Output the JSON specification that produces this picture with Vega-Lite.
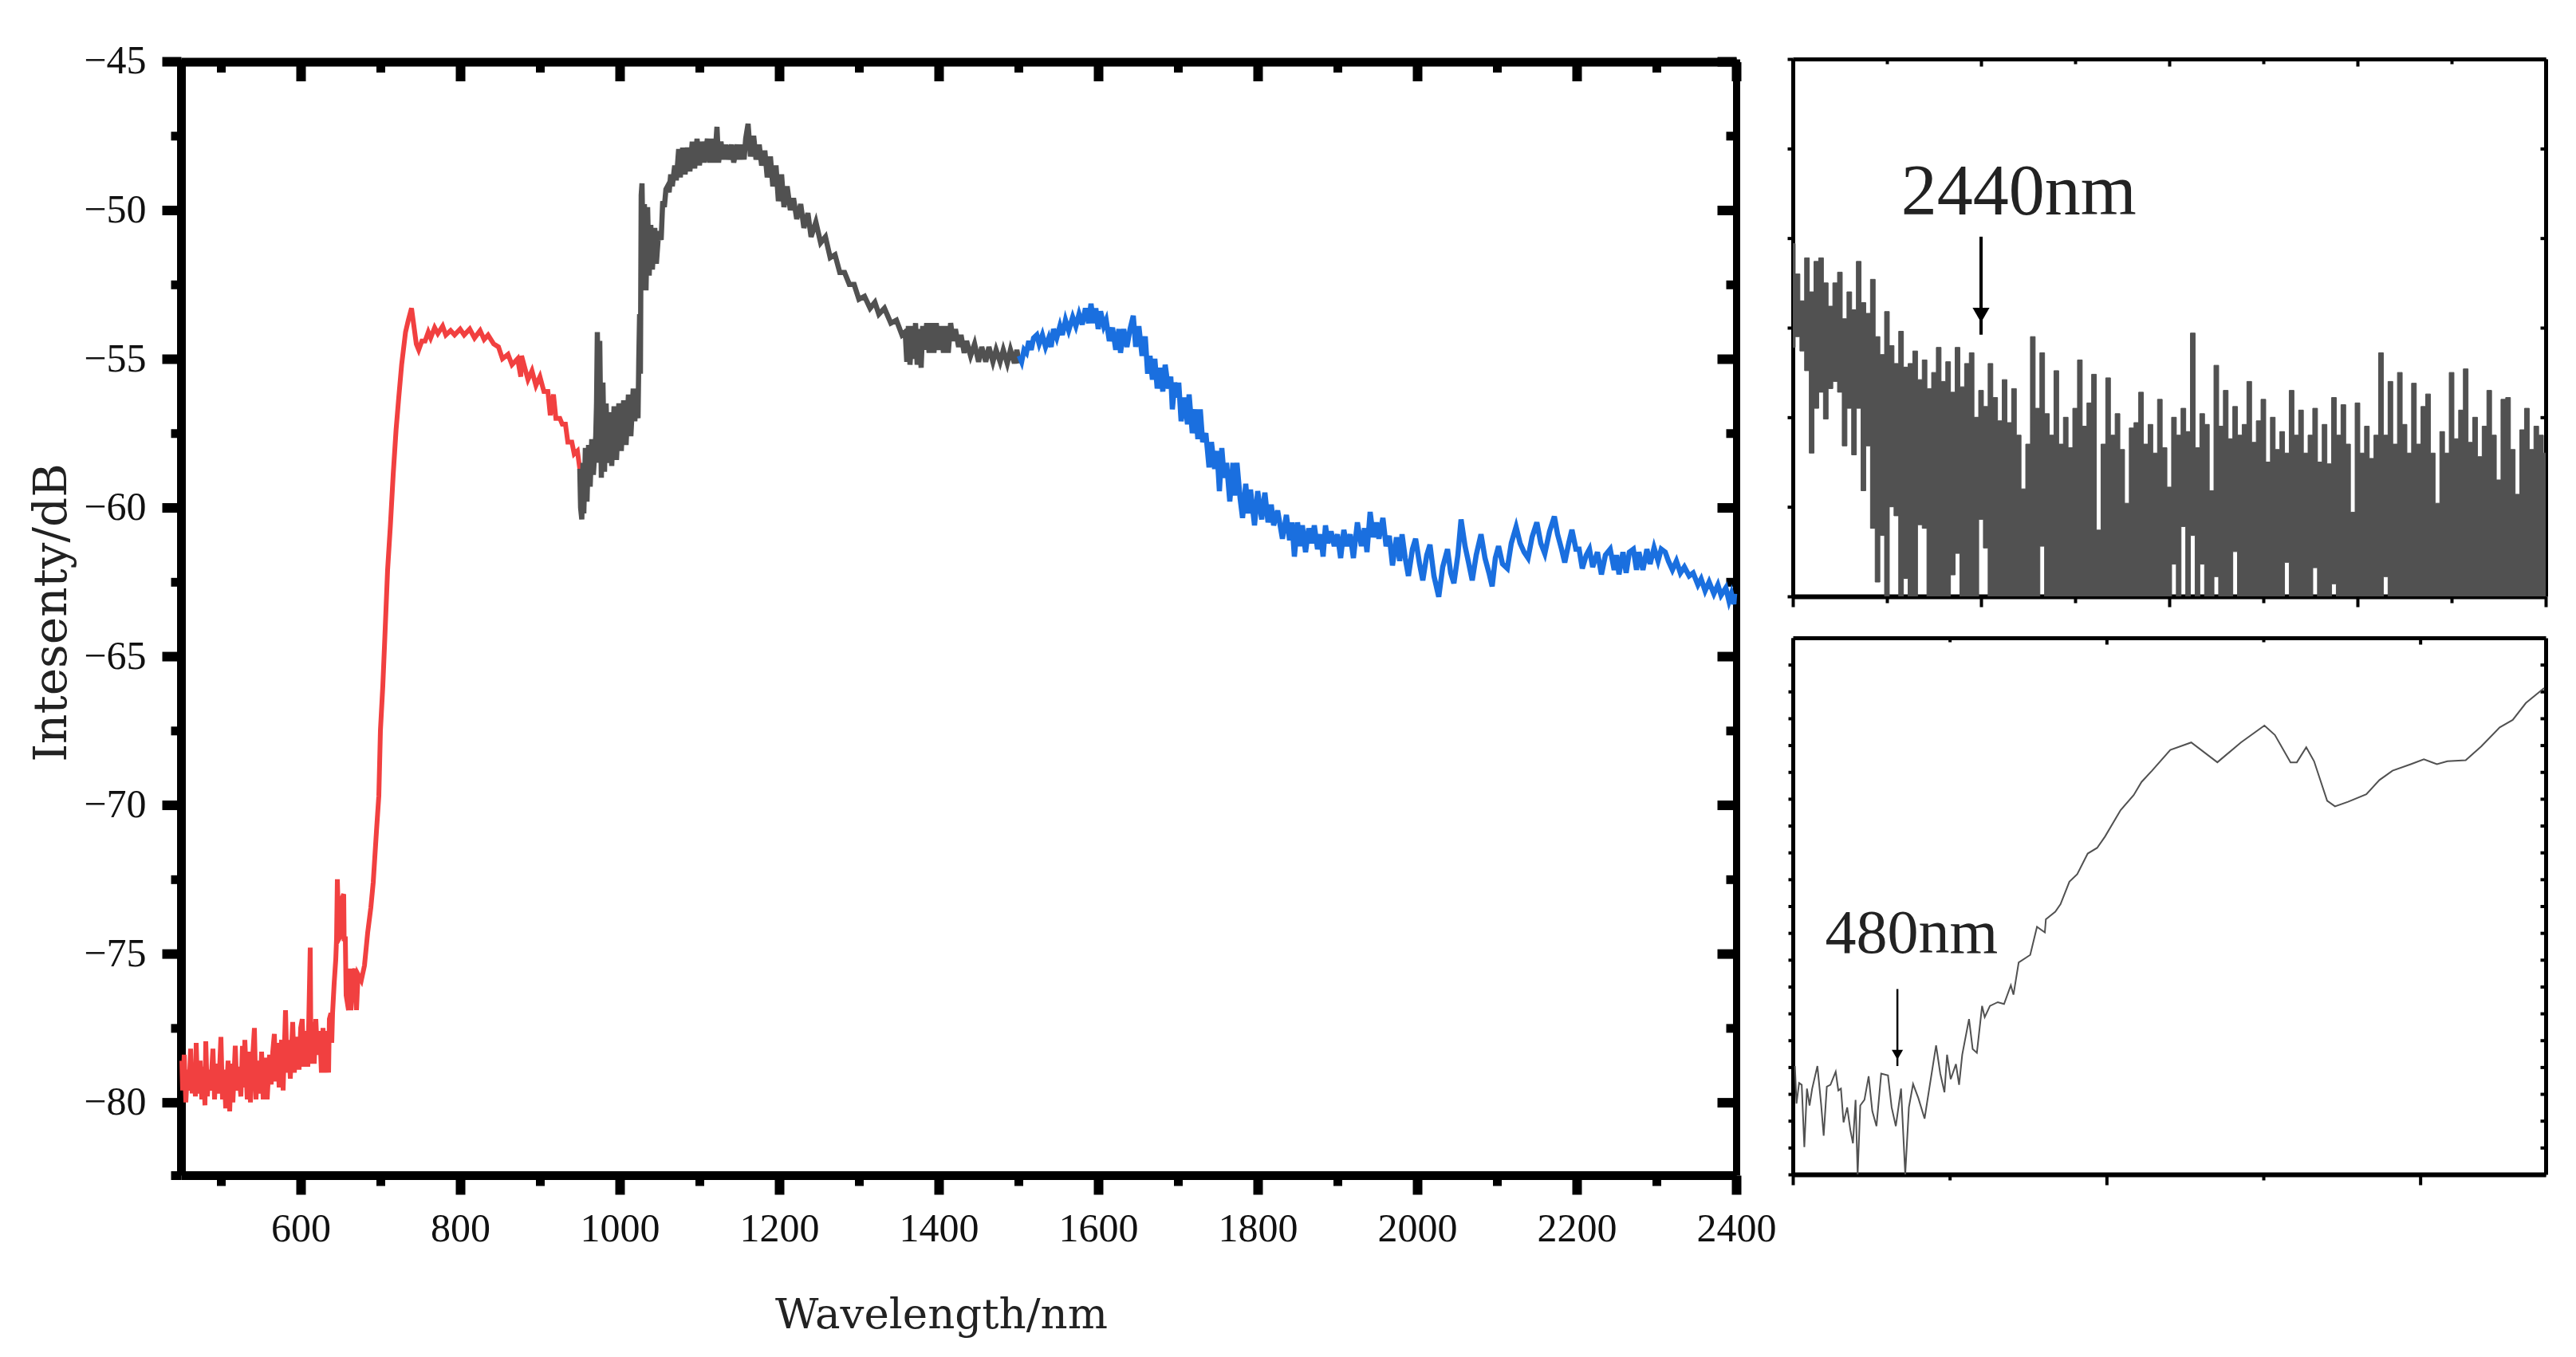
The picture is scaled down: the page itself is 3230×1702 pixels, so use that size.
{
"$schema":"https://vega.github.io/schema/vega-lite/v6.json",
"description":"Supercontinuum spectrum 450-2400 nm with close-ups of the two band edges",
"background":"white",
"padding":{"left":36,"top":51,"right":5,"bottom":5},
"bounds":"flush",
"spacing":71,
"datasets":{
"red":[{"nm":451,"db":-78.6},{"nm":452,"db":-79.6},{"nm":454,"db":-78.4},{"nm":456,"db":-80},{"nm":458,"db":-78.9},{"nm":460,"db":-79.6},{"nm":462,"db":-78.2},{"nm":464,"db":-79.7},{"nm":466,"db":-78.8},{"nm":468,"db":-79.8},{"nm":469,"db":-78},{"nm":471,"db":-79.7},{"nm":474,"db":-78.6},{"nm":476,"db":-79.9},{"nm":478,"db":-78.8},{"nm":480,"db":-80.1},{"nm":481,"db":-77.95},{"nm":483,"db":-79.8},{"nm":485,"db":-78.9},{"nm":487,"db":-79.6},{"nm":490,"db":-78.2},{"nm":492,"db":-79.9},{"nm":494,"db":-78.7},{"nm":497,"db":-79.7},{"nm":500,"db":-77.8},{"nm":502,"db":-79.9},{"nm":504,"db":-78.9},{"nm":506,"db":-80.2},{"nm":509,"db":-78.6},{"nm":511,"db":-80.3},{"nm":513,"db":-78.7},{"nm":515,"db":-80},{"nm":518,"db":-78.1},{"nm":520,"db":-79.6},{"nm":522,"db":-78.8},{"nm":525,"db":-79.8},{"nm":527,"db":-78.1},{"nm":529,"db":-79.5},{"nm":530,"db":-77.9},{"nm":533,"db":-79.9},{"nm":535,"db":-78.3},{"nm":537,"db":-80},{"nm":540,"db":-78.4},{"nm":542,"db":-77.5},{"nm":544,"db":-79.9},{"nm":546,"db":-78.6},{"nm":549,"db":-79.7},{"nm":551,"db":-78.3},{"nm":553,"db":-79.9},{"nm":556,"db":-78.5},{"nm":558,"db":-79.9},{"nm":561,"db":-78.4},{"nm":563,"db":-79.4},{"nm":565,"db":-78.3},{"nm":567,"db":-77.7},{"nm":569,"db":-79.3},{"nm":571,"db":-78},{"nm":573,"db":-79.5},{"nm":576,"db":-77.9},{"nm":578,"db":-79.6},{"nm":581,"db":-76.9},{"nm":583,"db":-79},{"nm":585,"db":-77.9},{"nm":587,"db":-79.2},{"nm":590,"db":-77.3},{"nm":592,"db":-79},{"nm":595,"db":-77.8},{"nm":598,"db":-78.9},{"nm":600,"db":-77.5},{"nm":602,"db":-77.2},{"nm":604,"db":-78.8},{"nm":607,"db":-77.6},{"nm":609,"db":-78.8},{"nm":612,"db":-74.8},{"nm":613,"db":-78.7},{"nm":615,"db":-77.3},{"nm":617,"db":-78.7},{"nm":619,"db":-77.2},{"nm":621,"db":-78.4},{"nm":624,"db":-77.6},{"nm":626,"db":-79},{"nm":628,"db":-77.5},{"nm":631,"db":-79},{"nm":633,"db":-77.6},{"nm":635,"db":-79},{"nm":636,"db":-77.2},{"nm":638,"db":-77},{"nm":639,"db":-78},{"nm":640,"db":-77},{"nm":642,"db":-76},{"nm":644,"db":-75.2},{"nm":645,"db":-74.5},{"nm":646,"db":-72.5},{"nm":648,"db":-74.5},{"nm":650,"db":-74.4},{"nm":651,"db":-73.2},{"nm":654,"db":-73},{"nm":654.5,"db":-74.5},{"nm":656,"db":-74.5},{"nm":657,"db":-76.4},{"nm":660,"db":-76.9},{"nm":662,"db":-75.5},{"nm":663,"db":-76.9},{"nm":665,"db":-76},{"nm":668,"db":-75.5},{"nm":670,"db":-76.9},{"nm":672,"db":-75.7},{"nm":676,"db":-75.9},{"nm":680,"db":-75.4},{"nm":684,"db":-74.3},{"nm":688,"db":-73.45},{"nm":691,"db":-72.6},{"nm":695,"db":-70.9},{"nm":698,"db":-69.7},{"nm":700,"db":-67.5},{"nm":703,"db":-66},{"nm":705.5,"db":-64.4},{"nm":709,"db":-62.1},{"nm":712.5,"db":-60.6},{"nm":716,"db":-58.9},{"nm":719.6,"db":-57.4},{"nm":723,"db":-56.3},{"nm":726.6,"db":-55.2},{"nm":731.5,"db":-54.1},{"nm":735,"db":-53.7},{"nm":739,"db":-53.3},{"nm":742,"db":-53.9},{"nm":745,"db":-54.5},{"nm":748,"db":-54.7},{"nm":752,"db":-54.4},{"nm":756,"db":-54.4},{"nm":760,"db":-54.1},{"nm":763,"db":-54.3},{"nm":768,"db":-53.95},{"nm":772,"db":-54.15},{"nm":778,"db":-53.9},{"nm":782,"db":-54.2},{"nm":788,"db":-54.05},{"nm":793,"db":-54.2},{"nm":800,"db":-54},{"nm":805,"db":-54.2},{"nm":812,"db":-54},{"nm":818,"db":-54.3},{"nm":825,"db":-54.05},{"nm":830,"db":-54.35},{"nm":835,"db":-54.2},{"nm":842,"db":-54.5},{"nm":848,"db":-54.6},{"nm":853,"db":-55},{"nm":860,"db":-54.85},{"nm":865,"db":-55.2},{"nm":872,"db":-55},{"nm":876,"db":-55.6},{"nm":877,"db":-54.9},{"nm":885,"db":-55.7},{"nm":890,"db":-55.4},{"nm":895,"db":-55.9},{"nm":900,"db":-55.6},{"nm":905,"db":-56.1},{"nm":910,"db":-56.1},{"nm":913,"db":-56.9},{"nm":917,"db":-56.2},{"nm":920,"db":-57},{"nm":925,"db":-57},{"nm":928,"db":-57.2},{"nm":932,"db":-57.2},{"nm":935,"db":-57.8},{"nm":940,"db":-57.8},{"nm":943,"db":-58.2},{"nm":947,"db":-58.1},{"nm":950,"db":-58.7}],
"grey":[{"nm":950,"db":-58.7},{"nm":951,"db":-60},{"nm":952.5,"db":-60.4},{"nm":954,"db":-58.5},{"nm":955,"db":-60.2},{"nm":957,"db":-58},{"nm":959,"db":-59.8},{"nm":961,"db":-57.9},{"nm":963,"db":-59.3},{"nm":965,"db":-57.7},{"nm":967,"db":-58.9},{"nm":970,"db":-57.6},{"nm":971,"db":-56.5},{"nm":972,"db":-54.1},{"nm":974,"db":-58.5},{"nm":975,"db":-54.4},{"nm":977,"db":-59},{"nm":979,"db":-55.8},{"nm":981,"db":-58.8},{"nm":983,"db":-56.5},{"nm":985,"db":-58.5},{"nm":988,"db":-56.8},{"nm":990,"db":-58.6},{"nm":993,"db":-56.6},{"nm":996,"db":-58.4},{"nm":999,"db":-56.5},{"nm":1002,"db":-58.1},{"nm":1005,"db":-56.4},{"nm":1008,"db":-57.9},{"nm":1011,"db":-56.2},{"nm":1014,"db":-57.6},{"nm":1017,"db":-56},{"nm":1019,"db":-57.1},{"nm":1021,"db":-56},{"nm":1023,"db":-57},{"nm":1024,"db":-55},{"nm":1025,"db":-53.5},{"nm":1026,"db":-55.5},{"nm":1027,"db":-49.5},{"nm":1028,"db":-49.1},{"nm":1030,"db":-52.5},{"nm":1031,"db":-49.8},{"nm":1033,"db":-52.7},{"nm":1035,"db":-49.9},{"nm":1037,"db":-52.2},{"nm":1039,"db":-50.5},{"nm":1041,"db":-52},{"nm":1044,"db":-50.6},{"nm":1046,"db":-51.8},{"nm":1049,"db":-50.7},{"nm":1052,"db":-51},{"nm":1054,"db":-49.7},{"nm":1056,"db":-49.9},{"nm":1058,"db":-49.3},{"nm":1060,"db":-49.2},{"nm":1062,"db":-49.4},{"nm":1064,"db":-48.8},{"nm":1066,"db":-49.2},{"nm":1069,"db":-48.5},{"nm":1071,"db":-49},{"nm":1074,"db":-47.95},{"nm":1076,"db":-48.9},{"nm":1079,"db":-47.9},{"nm":1082,"db":-48.8},{"nm":1085,"db":-47.9},{"nm":1088,"db":-48.7},{"nm":1091,"db":-47.7},{"nm":1094,"db":-48.6},{"nm":1097,"db":-47.6},{"nm":1100,"db":-48.5},{"nm":1103,"db":-47.7},{"nm":1106,"db":-48.4},{"nm":1110,"db":-47.6},{"nm":1113,"db":-48.4},{"nm":1116,"db":-47.6},{"nm":1119,"db":-48.4},{"nm":1122,"db":-47.2},{"nm":1124,"db":-48.4},{"nm":1127,"db":-47.7},{"nm":1130,"db":-48.3},{"nm":1133,"db":-47.8},{"nm":1136,"db":-48.3},{"nm":1140,"db":-47.8},{"nm":1143,"db":-48.4},{"nm":1147,"db":-47.8},{"nm":1150,"db":-48.3},{"nm":1153,"db":-47.8},{"nm":1156,"db":-48.3},{"nm":1158,"db":-47.6},{"nm":1161,"db":-47.1},{"nm":1164,"db":-48.2},{"nm":1168,"db":-47.5},{"nm":1171,"db":-48.3},{"nm":1175,"db":-47.8},{"nm":1178,"db":-48.5},{"nm":1182,"db":-48},{"nm":1185,"db":-48.9},{"nm":1189,"db":-48.2},{"nm":1192,"db":-49.2},{"nm":1196,"db":-48.5},{"nm":1199,"db":-49.7},{"nm":1203,"db":-48.8},{"nm":1206,"db":-49.9},{"nm":1210,"db":-49.2},{"nm":1214,"db":-50},{"nm":1218,"db":-49.6},{"nm":1222,"db":-50.3},{"nm":1227,"db":-49.8},{"nm":1231,"db":-50.6},{"nm":1236,"db":-50.1},{"nm":1240,"db":-50.9},{"nm":1246,"db":-50.4},{"nm":1252,"db":-51.1},{"nm":1258,"db":-50.9},{"nm":1264,"db":-51.6},{"nm":1270,"db":-51.5},{"nm":1276,"db":-52.1},{"nm":1282,"db":-52.1},{"nm":1288,"db":-52.5},{"nm":1294,"db":-52.5},{"nm":1300,"db":-53},{"nm":1307,"db":-52.9},{"nm":1314,"db":-53.3},{"nm":1320,"db":-53.1},{"nm":1325,"db":-53.5},{"nm":1332,"db":-53.3},{"nm":1340,"db":-53.8},{"nm":1347,"db":-53.7},{"nm":1354,"db":-54.2},{"nm":1358,"db":-54.1},{"nm":1360,"db":-55.1},{"nm":1362,"db":-53.9},{"nm":1364,"db":-55.2},{"nm":1367,"db":-53.9},{"nm":1369,"db":-55},{"nm":1371,"db":-53.8},{"nm":1373,"db":-55.2},{"nm":1375,"db":-54},{"nm":1378,"db":-55.3},{"nm":1380,"db":-53.9},{"nm":1382,"db":-54.7},{"nm":1385,"db":-53.8},{"nm":1388,"db":-54.8},{"nm":1391,"db":-53.8},{"nm":1394,"db":-54.8},{"nm":1397,"db":-53.8},{"nm":1400,"db":-54.7},{"nm":1403,"db":-53.9},{"nm":1406,"db":-54.8},{"nm":1409,"db":-53.9},{"nm":1412,"db":-54.8},{"nm":1415,"db":-53.8},{"nm":1418,"db":-54.4},{"nm":1421,"db":-54},{"nm":1425,"db":-54.6},{"nm":1428,"db":-54.2},{"nm":1432,"db":-54.8},{"nm":1435,"db":-54.4},{"nm":1440,"db":-54.9},{"nm":1445,"db":-54.5},{"nm":1450,"db":-55.1},{"nm":1454,"db":-54.6},{"nm":1459,"db":-55.1},{"nm":1463,"db":-54.6},{"nm":1468,"db":-55.1},{"nm":1472,"db":-54.7},{"nm":1477,"db":-55.1},{"nm":1481,"db":-54.7},{"nm":1486,"db":-55.15},{"nm":1490,"db":-54.7},{"nm":1495,"db":-55.15},{"nm":1498,"db":-54.7},{"nm":1501,"db":-55.15}],
"blue":[{"nm":1501,"db":-54.9},{"nm":1504,"db":-55.1},{"nm":1507,"db":-54.7},{"nm":1510,"db":-54.8},{"nm":1513,"db":-54.4},{"nm":1516,"db":-54.7},{"nm":1519,"db":-54.3},{"nm":1523,"db":-54.2},{"nm":1526,"db":-54.5},{"nm":1530,"db":-54.2},{"nm":1534,"db":-54.6},{"nm":1538,"db":-54.3},{"nm":1541,"db":-54.6},{"nm":1544,"db":-54},{"nm":1548,"db":-54.3},{"nm":1552,"db":-53.9},{"nm":1555,"db":-54.2},{"nm":1559,"db":-53.7},{"nm":1563,"db":-54.05},{"nm":1568,"db":-53.6},{"nm":1572,"db":-53.9},{"nm":1576,"db":-53.5},{"nm":1580,"db":-53.85},{"nm":1584,"db":-53.3},{"nm":1588,"db":-53.8},{"nm":1591,"db":-53.15},{"nm":1594,"db":-53.8},{"nm":1597,"db":-53.3},{"nm":1600,"db":-54},{"nm":1603,"db":-53.4},{"nm":1607,"db":-53.9},{"nm":1610,"db":-53.7},{"nm":1614,"db":-54.4},{"nm":1618,"db":-53.95},{"nm":1622,"db":-54.7},{"nm":1626,"db":-54},{"nm":1628,"db":-54.8},{"nm":1632,"db":-54},{"nm":1636,"db":-54.6},{"nm":1640,"db":-54},{"nm":1644,"db":-53.55},{"nm":1647,"db":-54.6},{"nm":1651,"db":-53.9},{"nm":1655,"db":-54.9},{"nm":1659,"db":-54.25},{"nm":1662,"db":-55.5},{"nm":1665,"db":-54.9},{"nm":1668,"db":-55.7},{"nm":1671,"db":-55},{"nm":1674,"db":-56},{"nm":1678,"db":-55.3},{"nm":1681,"db":-56.1},{"nm":1684,"db":-55.2},{"nm":1688,"db":-56},{"nm":1691,"db":-55.6},{"nm":1693,"db":-56.7},{"nm":1696,"db":-55.8},{"nm":1699,"db":-56.3},{"nm":1701,"db":-55.8},{"nm":1704,"db":-57.1},{"nm":1708,"db":-56.3},{"nm":1712,"db":-57.2},{"nm":1714,"db":-56.2},{"nm":1718,"db":-57.5},{"nm":1722,"db":-56.7},{"nm":1725,"db":-57.7},{"nm":1728,"db":-56.7},{"nm":1731,"db":-57.8},{"nm":1735,"db":-57.5},{"nm":1739,"db":-58.65},{"nm":1742,"db":-57.8},{"nm":1746,"db":-58.7},{"nm":1749,"db":-58.1},{"nm":1752,"db":-59.45},{"nm":1755,"db":-58},{"nm":1758,"db":-59},{"nm":1761,"db":-58.5},{"nm":1765,"db":-59.8},{"nm":1769,"db":-58.5},{"nm":1771,"db":-59.6},{"nm":1774,"db":-58.5},{"nm":1778,"db":-59.7},{"nm":1781,"db":-60.35},{"nm":1785,"db":-59.2},{"nm":1788,"db":-60.2},{"nm":1791,"db":-59.4},{"nm":1796,"db":-60.6},{"nm":1800,"db":-59.45},{"nm":1805,"db":-60.4},{"nm":1809,"db":-59.5},{"nm":1813,"db":-60.5},{"nm":1817,"db":-59.9},{"nm":1820,"db":-60.6},{"nm":1825,"db":-60.1},{"nm":1831,"db":-61.05},{"nm":1836,"db":-60.25},{"nm":1840,"db":-61.1},{"nm":1843,"db":-60.5},{"nm":1846,"db":-61.65},{"nm":1850,"db":-60.5},{"nm":1853,"db":-61.3},{"nm":1856,"db":-60.6},{"nm":1860,"db":-61.5},{"nm":1864,"db":-60.7},{"nm":1868,"db":-61.2},{"nm":1871,"db":-60.6},{"nm":1875,"db":-61.4},{"nm":1879,"db":-60.9},{"nm":1882,"db":-61.65},{"nm":1885,"db":-60.6},{"nm":1888,"db":-61.2},{"nm":1892,"db":-60.8},{"nm":1896,"db":-61.3},{"nm":1900,"db":-60.9},{"nm":1904,"db":-61.7},{"nm":1908,"db":-60.75},{"nm":1912,"db":-61.3},{"nm":1916,"db":-60.9},{"nm":1920,"db":-61.7},{"nm":1925,"db":-60.5},{"nm":1930,"db":-61.3},{"nm":1934,"db":-60.7},{"nm":1937,"db":-61.5},{"nm":1941,"db":-60.15},{"nm":1945,"db":-61},{"nm":1949,"db":-60.5},{"nm":1952,"db":-61.05},{"nm":1957,"db":-60.35},{"nm":1961,"db":-61.3},{"nm":1965,"db":-60.95},{"nm":1969,"db":-61.95},{"nm":1974,"db":-61},{"nm":1978,"db":-61.8},{"nm":1981,"db":-60.9},{"nm":1985,"db":-61.7},{"nm":1989,"db":-62.3},{"nm":1994,"db":-61.4},{"nm":1998,"db":-61.05},{"nm":2003,"db":-61.9},{"nm":2007,"db":-62.45},{"nm":2012,"db":-61.6},{"nm":2016,"db":-61.25},{"nm":2021,"db":-62.3},{"nm":2027,"db":-63},{"nm":2032,"db":-62},{"nm":2038,"db":-61.4},{"nm":2042,"db":-62.2},{"nm":2046,"db":-62.55},{"nm":2051,"db":-61.6},{"nm":2055,"db":-60.4},{"nm":2060,"db":-61.3},{"nm":2064,"db":-61.8},{"nm":2069,"db":-62.45},{"nm":2074,"db":-61.6},{"nm":2080,"db":-60.9},{"nm":2085,"db":-61.7},{"nm":2090,"db":-62.2},{"nm":2094,"db":-62.65},{"nm":2098,"db":-61.7},{"nm":2102,"db":-61.3},{"nm":2107,"db":-61.9},{"nm":2113,"db":-62.05},{"nm":2118,"db":-61.2},{"nm":2124,"db":-60.65},{"nm":2129,"db":-61.2},{"nm":2134,"db":-61.5},{"nm":2139,"db":-61.7},{"nm":2144,"db":-61},{"nm":2150,"db":-60.5},{"nm":2155,"db":-61.2},{"nm":2160,"db":-61.55},{"nm":2166,"db":-60.8},{"nm":2172,"db":-60.3},{"nm":2176,"db":-60.9},{"nm":2181,"db":-61.4},{"nm":2185,"db":-61.85},{"nm":2190,"db":-61.2},{"nm":2194,"db":-60.75},{"nm":2199,"db":-61.4},{"nm":2203,"db":-61.4},{"nm":2207,"db":-62.05},{"nm":2212,"db":-61.6},{"nm":2216,"db":-61.4},{"nm":2220,"db":-62},{"nm":2226,"db":-61.5},{"nm":2231,"db":-62.25},{"nm":2236,"db":-61.6},{"nm":2242,"db":-61.4},{"nm":2247,"db":-62.1},{"nm":2250,"db":-61.6},{"nm":2253,"db":-62.25},{"nm":2258,"db":-61.5},{"nm":2262,"db":-62.2},{"nm":2266,"db":-61.5},{"nm":2271,"db":-61.4},{"nm":2275,"db":-62.1},{"nm":2278,"db":-61.5},{"nm":2283,"db":-62.1},{"nm":2288,"db":-61.4},{"nm":2292,"db":-61.9},{"nm":2297,"db":-61.35},{"nm":2302,"db":-61.8},{"nm":2306,"db":-61.4},{"nm":2311,"db":-61.5},{"nm":2315,"db":-61.8},{"nm":2320,"db":-62.1},{"nm":2325,"db":-61.8},{"nm":2330,"db":-62.2},{"nm":2335,"db":-62},{"nm":2341,"db":-62.3},{"nm":2346,"db":-62.2},{"nm":2352,"db":-62.6},{"nm":2356,"db":-62.4},{"nm":2361,"db":-62.8},{"nm":2366,"db":-62.5},{"nm":2372,"db":-62.9},{"nm":2377,"db":-62.6},{"nm":2381,"db":-62.95},{"nm":2387,"db":-62.7},{"nm":2391,"db":-63.15},{"nm":2394,"db":-62.9},{"nm":2397,"db":-63.25},{"nm":2398,"db":-62.9}],
"longEdge":[{"nm":2400,"hi":-70.3,"lo":-76.1},{"nm":2401,"hi":-72,"lo":-75.5},{"nm":2402,"hi":-73.5,"lo":-76.3},{"nm":2403,"hi":-71.1,"lo":-77.4},{"nm":2404,"hi":-73,"lo":-82},{"nm":2405,"hi":-71.3,"lo":-79.5},{"nm":2406,"hi":-71.1,"lo":-78.6},{"nm":2407,"hi":-72.5,"lo":-80.1},{"nm":2408,"hi":-73.8,"lo":-78.4},{"nm":2409,"hi":-72.5,"lo":-78},{"nm":2410,"hi":-71.9,"lo":-78.6},{"nm":2411,"hi":-74.5,"lo":-81.6},{"nm":2412,"hi":-73,"lo":-79.5},{"nm":2413,"hi":-74,"lo":-82.1},{"nm":2414,"hi":-71.3,"lo":-79.5},{"nm":2415,"hi":-73.6,"lo":-84.1},{"nm":2416,"hi":-74.2,"lo":-81.6},{"nm":2417,"hi":-72.3,"lo":-86.2},{"nm":2418,"hi":-75.5,"lo":-89.2},{"nm":2419,"hi":-76.5,"lo":-86.6},{"nm":2420,"hi":-74.1,"lo":-90},{"nm":2421,"hi":-76,"lo":-85},{"nm":2422,"hi":-77,"lo":-85.5},{"nm":2423,"hi":-75.2,"lo":-90},{"nm":2424,"hi":-77.2,"lo":-89},{"nm":2425,"hi":-77,"lo":-90},{"nm":2426,"hi":-76.3,"lo":-90},{"nm":2427,"hi":-77.9,"lo":-86},{"nm":2428,"hi":-76.8,"lo":-86.2},{"nm":2429,"hi":-78.4,"lo":-90},{"nm":2430,"hi":-77.5,"lo":-90},{"nm":2431,"hi":-76.1,"lo":-90},{"nm":2432,"hi":-78,"lo":-90},{"nm":2433,"hi":-76.9,"lo":-90},{"nm":2434,"hi":-78.6,"lo":-88.8},{"nm":2435,"hi":-76.1,"lo":-87.6},{"nm":2436,"hi":-78.3,"lo":-90},{"nm":2437,"hi":-77,"lo":-90},{"nm":2438,"hi":-76.4,"lo":-90},{"nm":2439,"hi":-80,"lo":-90},{"nm":2440,"hi":-78.5,"lo":-85.7},{"nm":2441,"hi":-79.4,"lo":-87.3},{"nm":2442,"hi":-77,"lo":-90},{"nm":2443,"hi":-78.9,"lo":-90},{"nm":2444,"hi":-80.2,"lo":-90},{"nm":2445,"hi":-77.9,"lo":-90},{"nm":2446,"hi":-80.3,"lo":-90},{"nm":2447,"hi":-78.4,"lo":-90},{"nm":2448,"hi":-81,"lo":-90},{"nm":2449,"hi":-84,"lo":-90},{"nm":2450,"hi":-81.5,"lo":-90},{"nm":2451,"hi":-75.5,"lo":-90},{"nm":2452,"hi":-79.5,"lo":-90},{"nm":2453,"hi":-76.4,"lo":-87.2},{"nm":2454,"hi":-79.8,"lo":-90},{"nm":2455,"hi":-81,"lo":-90},{"nm":2456,"hi":-77.4,"lo":-90},{"nm":2457,"hi":-81.5,"lo":-90},{"nm":2458,"hi":-80,"lo":-90},{"nm":2459,"hi":-81.7,"lo":-90},{"nm":2460,"hi":-79.5,"lo":-90},{"nm":2461,"hi":-76.8,"lo":-90},{"nm":2462,"hi":-80.5,"lo":-90},{"nm":2463,"hi":-79.2,"lo":-90},{"nm":2464,"hi":-77.6,"lo":-90},{"nm":2465,"hi":-86.3,"lo":-90},{"nm":2466,"hi":-81.5,"lo":-90},{"nm":2467,"hi":-77.8,"lo":-90},{"nm":2468,"hi":-81,"lo":-90},{"nm":2469,"hi":-79.8,"lo":-90},{"nm":2470,"hi":-81.8,"lo":-90},{"nm":2471,"hi":-84.8,"lo":-90},{"nm":2472,"hi":-80.6,"lo":-90},{"nm":2473,"hi":-80.3,"lo":-90},{"nm":2474,"hi":-78.6,"lo":-90},{"nm":2475,"hi":-81.5,"lo":-90},{"nm":2476,"hi":-80.4,"lo":-90},{"nm":2477,"hi":-82,"lo":-90},{"nm":2478,"hi":-79,"lo":-90},{"nm":2479,"hi":-81.7,"lo":-90},{"nm":2480,"hi":-83.9,"lo":-90},{"nm":2481,"hi":-80,"lo":-88.2},{"nm":2482,"hi":-81,"lo":-90},{"nm":2483,"hi":-79.5,"lo":-86.1},{"nm":2484,"hi":-80.8,"lo":-90},{"nm":2485,"hi":-75.3,"lo":-86.6},{"nm":2486,"hi":-81.7,"lo":-90},{"nm":2487,"hi":-79.8,"lo":-88.2},{"nm":2488,"hi":-80.4,"lo":-90},{"nm":2489,"hi":-84.1,"lo":-90},{"nm":2490,"hi":-77.1,"lo":-88.9},{"nm":2491,"hi":-80.5,"lo":-90},{"nm":2492,"hi":-78.5,"lo":-90},{"nm":2493,"hi":-81.2,"lo":-90},{"nm":2494,"hi":-79.4,"lo":-87.5},{"nm":2495,"hi":-81,"lo":-90},{"nm":2496,"hi":-80.4,"lo":-90},{"nm":2497,"hi":-78,"lo":-90},{"nm":2498,"hi":-81.4,"lo":-90},{"nm":2499,"hi":-80.2,"lo":-90},{"nm":2500,"hi":-79,"lo":-90},{"nm":2501,"hi":-82.5,"lo":-90},{"nm":2502,"hi":-80,"lo":-90},{"nm":2503,"hi":-81.8,"lo":-90},{"nm":2504,"hi":-80.8,"lo":-90},{"nm":2505,"hi":-82,"lo":-88.1},{"nm":2506,"hi":-78.5,"lo":-90},{"nm":2507,"hi":-81,"lo":-90},{"nm":2508,"hi":-79.6,"lo":-90},{"nm":2509,"hi":-82,"lo":-90},{"nm":2510,"hi":-81,"lo":-90},{"nm":2511,"hi":-79.5,"lo":-88.4},{"nm":2512,"hi":-82.5,"lo":-90},{"nm":2513,"hi":-80.4,"lo":-90},{"nm":2514,"hi":-82.6,"lo":-90},{"nm":2515,"hi":-78.9,"lo":-89.3},{"nm":2516,"hi":-81,"lo":-90},{"nm":2517,"hi":-79.3,"lo":-90},{"nm":2518,"hi":-81.5,"lo":-90},{"nm":2519,"hi":-85.3,"lo":-90},{"nm":2520,"hi":-79.2,"lo":-90},{"nm":2521,"hi":-82,"lo":-90},{"nm":2522,"hi":-80.5,"lo":-90},{"nm":2523,"hi":-82.3,"lo":-90},{"nm":2524,"hi":-81,"lo":-90},{"nm":2525,"hi":-76.4,"lo":-90},{"nm":2526,"hi":-81,"lo":-88.9},{"nm":2527,"hi":-78,"lo":-90},{"nm":2528,"hi":-81.5,"lo":-90},{"nm":2529,"hi":-77.5,"lo":-90},{"nm":2530,"hi":-80.4,"lo":-90},{"nm":2531,"hi":-82,"lo":-90},{"nm":2532,"hi":-78.1,"lo":-90},{"nm":2533,"hi":-81.5,"lo":-90},{"nm":2534,"hi":-79.4,"lo":-90},{"nm":2535,"hi":-78.7,"lo":-90},{"nm":2536,"hi":-82,"lo":-90},{"nm":2537,"hi":-84.8,"lo":-90},{"nm":2538,"hi":-80.8,"lo":-90},{"nm":2539,"hi":-82,"lo":-90},{"nm":2540,"hi":-77.5,"lo":-90},{"nm":2541,"hi":-81.2,"lo":-90},{"nm":2542,"hi":-79.6,"lo":-90},{"nm":2543,"hi":-77.3,"lo":-90},{"nm":2544,"hi":-81.4,"lo":-90},{"nm":2545,"hi":-80,"lo":-90},{"nm":2546,"hi":-82.2,"lo":-90},{"nm":2547,"hi":-80.5,"lo":-90},{"nm":2548,"hi":-78.5,"lo":-90},{"nm":2549,"hi":-81,"lo":-90},{"nm":2550,"hi":-83.5,"lo":-90},{"nm":2551,"hi":-79,"lo":-90},{"nm":2552,"hi":-78.9,"lo":-90},{"nm":2553,"hi":-81.8,"lo":-90},{"nm":2554,"hi":-84.3,"lo":-90},{"nm":2555,"hi":-80.7,"lo":-90},{"nm":2556,"hi":-79.5,"lo":-90},{"nm":2557,"hi":-81.8,"lo":-90},{"nm":2558,"hi":-80.5,"lo":-90},{"nm":2559,"hi":-81,"lo":-90},{"nm":2560,"hi":-82,"lo":-90}],
"shortEdge":[{"nm":460.4,"db":-77.96},{"nm":460.7,"db":-79.36},{"nm":461.2,"db":-78.59},{"nm":461.7,"db":-78.66},{"nm":462.2,"db":-80.98},{"nm":462.7,"db":-78.8},{"nm":463.2,"db":-79.43},{"nm":463.7,"db":-78.8},{"nm":464.7,"db":-77.96},{"nm":465.4,"db":-79.36},{"nm":465.9,"db":-80.56},{"nm":466.5,"db":-78.73},{"nm":467.2,"db":-78.66},{"nm":468.2,"db":-78.17},{"nm":468.7,"db":-78.87},{"nm":469.2,"db":-78.8},{"nm":469.7,"db":-80.06},{"nm":470.4,"db":-79.5},{"nm":471,"db":-80.34},{"nm":471.5,"db":-80.84},{"nm":472,"db":-79.22},{"nm":472.4,"db":-82},{"nm":472.9,"db":-79.43},{"nm":473.7,"db":-79.22},{"nm":474.5,"db":-78.34},{"nm":475.2,"db":-79.64},{"nm":476,"db":-80.2},{"nm":476.9,"db":-78.24},{"nm":478.2,"db":-78.31},{"nm":478.9,"db":-79.5},{"nm":479.7,"db":-80.2},{"nm":480.7,"db":-78.8},{"nm":481.5,"db":-82},{"nm":482.2,"db":-79.5},{"nm":483,"db":-78.63},{"nm":484,"db":-79.15},{"nm":485.2,"db":-79.92},{"nm":485.7,"db":-79.29},{"nm":487.4,"db":-77.19},{"nm":488.2,"db":-78.24},{"nm":489,"db":-78.94},{"nm":489.5,"db":-77.54},{"nm":490.2,"db":-78.45},{"nm":491.2,"db":-77.89},{"nm":491.8,"db":-78.66},{"nm":492.4,"db":-77.54},{"nm":493.7,"db":-76.21},{"nm":494.4,"db":-77.33},{"nm":495.2,"db":-77.47},{"nm":496.2,"db":-75.72},{"nm":496.7,"db":-76.14},{"nm":497.7,"db":-75.72},{"nm":499.2,"db":-75.58},{"nm":500.4,"db":-75.65},{"nm":501.7,"db":-74.95},{"nm":502.2,"db":-75.3},{"nm":503.2,"db":-74.1},{"nm":505.4,"db":-73.82},{"nm":506.7,"db":-72.77},{"nm":508.2,"db":-72.98},{"nm":508.4,"db":-72.49},{"nm":510.2,"db":-72.21},{"nm":511.2,"db":-71.93},{"nm":512.9,"db":-71.09},{"nm":514.4,"db":-70.81},{"nm":516.4,"db":-70.04},{"nm":518.2,"db":-69.83},{"nm":519.7,"db":-69.41},{"nm":522.7,"db":-68.42},{"nm":525.2,"db":-67.86},{"nm":526.7,"db":-67.37},{"nm":528.7,"db":-66.95},{"nm":532.2,"db":-66.18},{"nm":536.2,"db":-65.9},{"nm":541.2,"db":-66.64},{"nm":545.7,"db":-65.9},{"nm":550.2,"db":-65.27},{"nm":552.2,"db":-65.62},{"nm":555.2,"db":-66.64},{"nm":556.4,"db":-66.64},{"nm":558.2,"db":-66.08},{"nm":559.7,"db":-66.6},{"nm":562.2,"db":-68.07},{"nm":563.7,"db":-68.28},{"nm":566.2,"db":-68.11},{"nm":569.7,"db":-67.83},{"nm":572.2,"db":-67.3},{"nm":574.7,"db":-66.95},{"nm":578.2,"db":-66.71},{"nm":580.7,"db":-66.53},{"nm":583.2,"db":-66.71},{"nm":585.2,"db":-66.6},{"nm":588.7,"db":-66.56},{"nm":591.7,"db":-66.04},{"nm":595.2,"db":-65.34},{"nm":597.7,"db":-65.06},{"nm":600.2,"db":-64.43},{"nm":603.7,"db":-63.87}],
"marker":[{"nm":2440,"db":-69.92,"db2":-75.39,"head":-74.3,"label":"2440nm","labelNm":2448,"labelDb":-68.66}],
"markerShort":[{"nm":480,"db":-75.09,"db2":-77.96,"head":-77.54,"label":"480nm","labelNm":482.7,"labelDb":-73.75}]
},
"hconcat":[
{"width":1950,"height":1400,
"resolve":{"axis":{"x":"independent","y":"independent"}},
"layer":[
{"data":{"name":"red"},"mark":{"type":"line","color":"#F14040","strokeWidth":6,"strokeJoin":"miter"},
"encoding":{"x":{"field":"nm","type":"quantitative","scale":{"domain":[450,2400],"nice":false,"zero":false},
"axis":{"orient":"bottom","title":"Wavelength/nm","domain":true,"domainWidth":11,"labels":true,"values":[600,800,1000,1200,1400,1600,1800,2000,2200,2400],"tickSize":24,"tickWidth":12,"labelPadding":18,"labelFont":"Liberation Serif","labelFontSize":50,"labelColor":"#111","labelFlush":false,"labelOverlap":false,"labelBound":false,"format":"d","titleFont":"DejaVu Serif","titleFontSize":53,"titleFontWeight":"normal","titleColor":"#222","titleX":953,"titleY":191,"titleAlign":"center","titleBaseline":"alphabetic","titleAnchor":null}},
"y":{"field":"db","type":"quantitative","scale":{"domain":[-82.45,-44.92],"nice":false,"zero":false},
"axis":{"orient":"left","title":"Intesenty/dB","domain":true,"domainWidth":11,"labels":true,"values":[-45,-50,-55,-60,-65,-70,-75,-80],"tickSize":24,"tickWidth":12,"labelPadding":20,"labelFont":"Liberation Serif","labelFontSize":50,"labelColor":"#111","labelOverlap":false,"labelBound":false,"labelFlush":false,"titleFont":"DejaVu Serif","titleFontSize":58,"titleFontWeight":"normal","titleColor":"#222","titleX":-145,"titleY":694,"titleAngle":-90,"titleAlign":"center","titleBaseline":"alphabetic","titleAnchor":null}}}},
{"data":{"name":"grey"},"mark":{"type":"line","color":"#515151","strokeWidth":6.5,"strokeJoin":"miter"},
"encoding":{"x":{"field":"nm","type":"quantitative","scale":{"domain":[450,2400],"nice":false,"zero":false},
"axis":{"orient":"top","title":null,"domain":true,"domainWidth":11,"offset":-3.5,"values":[600,800,1000,1200,1400,1600,1800,2000,2200,2400],"tickSize":-24,"tickWidth":12}},
"y":{"field":"db","type":"quantitative","scale":{"domain":[-82.45,-44.92],"nice":false,"zero":false},
"axis":{"orient":"right","title":null,"domain":true,"domainWidth":9,"values":[-45,-50,-55,-60,-65,-70,-75,-80],"tickSize":-24,"tickWidth":12}}}},
{"data":{"name":"blue"},"mark":{"type":"line","color":"#1A6FDF","strokeWidth":6.5,"strokeJoin":"miter"},
"encoding":{"x":{"field":"nm","type":"quantitative","scale":{"domain":[450,2400],"nice":false,"zero":false},
"axis":{"orient":"bottom","title":null,"values":[500,700,900,1100,1300,1500,1700,1900,2100,2300],"tickSize":13,"tickWidth":11}},
"y":{"field":"db","type":"quantitative","scale":{"domain":[-82.45,-44.92],"nice":false,"zero":false},
"axis":{"orient":"left","title":null,"values":[-47.5,-52.5,-57.5,-62.5,-67.5,-72.5,-77.5,-82.45],"tickSize":13,"tickWidth":11}}}},
{"data":{"values":[]},"mark":{"type":"point","opacity":0},
"encoding":{"x":{"field":"nm","type":"quantitative","scale":{"domain":[450,2400],"nice":false,"zero":false},
"axis":{"orient":"top","title":null,"offset":-3.5,"values":[500,700,900,1100,1300,1500,1700,1900,2100,2300],"tickSize":-13,"tickWidth":11}},
"y":{"field":"db","type":"quantitative","scale":{"domain":[-82.45,-44.92],"nice":false,"zero":false},
"axis":{"orient":"right","title":null,"values":[-47.5,-52.5,-57.5,-62.5,-67.5,-72.5,-77.5,-82.45],"tickSize":-13,"tickWidth":11}}}}
]},
{"bounds":"flush","spacing":52,"vconcat":[
{"width":944,"height":674,
"resolve":{"axis":{"x":"independent","y":"independent"}},
"layer":[
{"data":{"name":"longEdge"},"mark":{"type":"area","clip":true,"interpolate":"step","color":"#515151","stroke":"#515151","strokeWidth":1},
"encoding":{"x":{"field":"nm","type":"quantitative","scale":{"domain":[2400,2560],"nice":false,"zero":false},
"axis":{"orient":"bottom","title":null,"domain":true,"domainWidth":6,"values":[2400,2440,2480,2520,2560],"tickSize":13,"tickWidth":4}},
"y":{"field":"hi","type":"quantitative","scale":{"domain":[-90,-60],"nice":false,"zero":false},
"axis":{"orient":"left","title":null,"domain":true,"domainWidth":5,"values":[-60,-65,-70,-75,-80,-85,-90],"tickSize":7,"tickWidth":4}},
"y2":{"field":"lo"}}},
{"data":{"name":"marker"},"mark":{"type":"rule","color":"#000","strokeWidth":4},
"encoding":{"x":{"field":"nm","type":"quantitative","scale":{"domain":[2400,2560],"nice":false,"zero":false},
"axis":{"orient":"top","title":null,"domain":true,"domainWidth":5,"values":[2400,2440,2480,2520,2560],"tickSize":-9,"tickWidth":4}},
"y":{"field":"db","type":"quantitative","scale":{"domain":[-90,-60],"nice":false,"zero":false},
"axis":{"orient":"right","title":null,"domain":true,"domainWidth":5,"values":[-60,-65,-70,-75,-80,-85,-90],"tickSize":-7,"tickWidth":4}},
"y2":{"field":"db2"}}},
{"data":{"name":"marker"},"mark":{"type":"point","shape":"triangle-down","filled":true,"color":"#000","opacity":1,"size":450},
"encoding":{"x":{"field":"nm","type":"quantitative","scale":{"domain":[2400,2560],"nice":false,"zero":false},
"axis":{"orient":"bottom","title":null,"values":[2420,2460,2500,2540],"tickSize":8,"tickWidth":4}},
"y":{"field":"head","type":"quantitative","scale":{"domain":[-90,-60],"nice":false,"zero":false},"axis":null}}},
{"data":{"name":"marker"},"mark":{"type":"text","font":"Liberation Serif","fontSize":90,"color":"#222","align":"center","baseline":"alphabetic"},
"encoding":{"x":{"field":"labelNm","type":"quantitative","scale":{"domain":[2400,2560],"nice":false,"zero":false},
"axis":{"orient":"top","title":null,"values":[2420,2460,2500,2540],"tickSize":-6,"tickWidth":4}},
"y":{"field":"labelDb","type":"quantitative","scale":{"domain":[-90,-60],"nice":false,"zero":false},"axis":null},
"text":{"field":"label"}}}
]},
{"width":944,"height":673,
"resolve":{"axis":{"x":"independent","y":"independent"}},
"layer":[
{"data":{"name":"shortEdge"},"mark":{"type":"line","clip":true,"color":"#515151","strokeWidth":2},
"encoding":{"x":{"field":"nm","type":"quantitative","scale":{"domain":[460,604],"nice":false,"zero":false},
"axis":{"orient":"bottom","title":null,"domain":true,"domainWidth":6,"values":[460,520,580],"tickSize":13,"tickWidth":4}},
"y":{"field":"db","type":"quantitative","scale":{"domain":[-82,-62],"nice":false,"zero":false},
"axis":{"orient":"left","title":null,"domain":true,"domainWidth":5,"values":[-63,-64,-65,-66,-67,-68,-69,-70,-71,-72,-73,-74,-75,-76,-77,-78,-79,-80,-81,-82],"tickSize":6,"tickWidth":4}}}},
{"data":{"name":"markerShort"},"mark":{"type":"rule","color":"#000","strokeWidth":2.5},
"encoding":{"x":{"field":"nm","type":"quantitative","scale":{"domain":[460,604],"nice":false,"zero":false},
"axis":{"orient":"top","title":null,"domain":true,"domainWidth":5,"values":[460,520,580],"tickSize":-8,"tickWidth":4}},
"y":{"field":"db","type":"quantitative","scale":{"domain":[-82,-62],"nice":false,"zero":false},
"axis":{"orient":"right","title":null,"domain":true,"domainWidth":5,"values":[-63,-64,-65,-66,-67,-68,-69,-70,-71,-72,-73,-74,-75,-76,-77,-78,-79,-80,-81,-82],"tickSize":-7,"tickWidth":4}},
"y2":{"field":"db2"}}},
{"data":{"name":"markerShort"},"mark":{"type":"point","shape":"triangle-down","filled":true,"color":"#000","opacity":1,"size":200},
"encoding":{"x":{"field":"nm","type":"quantitative","scale":{"domain":[460,604],"nice":false,"zero":false},
"axis":{"orient":"bottom","title":null,"values":[490,550],"tickSize":7,"tickWidth":4}},
"y":{"field":"head","type":"quantitative","scale":{"domain":[-82,-62],"nice":false,"zero":false},"axis":null}}},
{"data":{"name":"markerShort"},"mark":{"type":"text","font":"Liberation Serif","fontSize":78,"color":"#222","align":"center","baseline":"alphabetic"},
"encoding":{"x":{"field":"labelNm","type":"quantitative","scale":{"domain":[460,604],"nice":false,"zero":false},
"axis":{"orient":"top","title":null,"values":[490,550],"tickSize":-5,"tickWidth":4}},
"y":{"field":"labelDb","type":"quantitative","scale":{"domain":[-82,-62],"nice":false,"zero":false},"axis":null},
"text":{"field":"label"}}}
]}
]}
],
"config":{"view":{"stroke":null},"axis":{"grid":false,"labels":false,"domain":false,"domainColor":"#000","tickColor":"#000","tickRound":false}}
}
